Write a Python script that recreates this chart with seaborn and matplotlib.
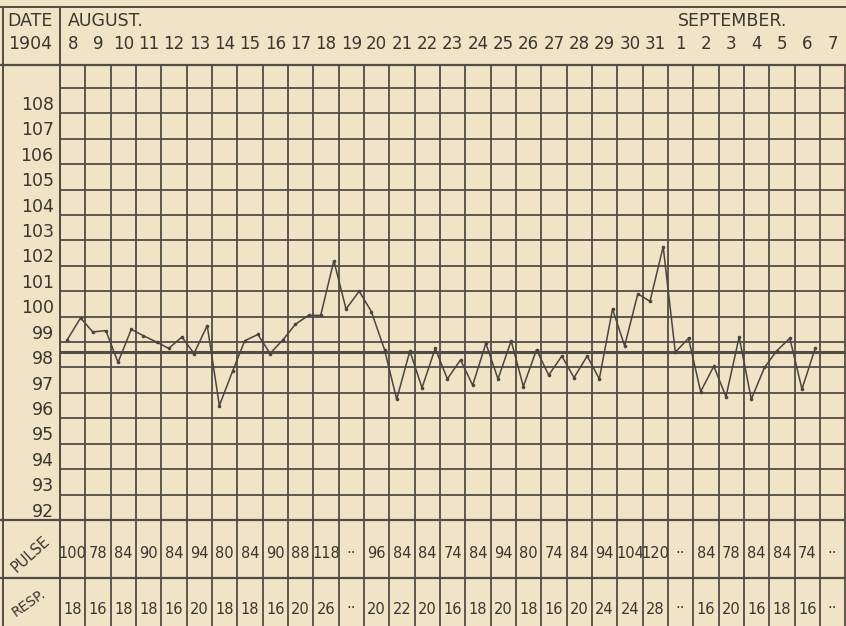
import numpy as np
import pandas as pd
import matplotlib
matplotlib.use("Agg")
import matplotlib.pyplot as plt
import seaborn as sns

# ---- data ----
aug_days = list(range(8, 32))
sep_days = list(range(1, 8))
date_labels = [str(d) for d in aug_days + sep_days]
temp_ticks = list(range(92, 109))
normal_temp = 98.6

# temperature, morning and evening readings per day (Aug 8 -> Sep 7)
temp_am = [99.1, 99.4, 98.2, 99.25, 98.75, 98.55, 96.5, 99.05, 98.55, 99.7,
           100.05, 100.3, 100.2, 96.75, 97.2, 97.55, 97.3, 97.55, 97.25, 97.7,
           97.6, 97.55, 98.85, 100.6, 98.6, 97.05, 96.85, 96.75, 98.65, 97.15, np.nan]
temp_pm = [99.95, 99.45, 99.5, 99.0, 99.2, 99.65, 97.85, 99.3, 99.1, 100.05,
           102.2, 101.0, 98.7, 98.65, 98.75, 98.3, 98.95, 99.05, 98.7, 98.45,
           98.45, 100.3, 100.9, 102.75, 99.15, 98.05, 99.2, 98.0, 99.15, 98.75, np.nan]
am_hour, pm_hour = 7, 19.5

pulse = ["100", "78", "84", "90", "84", "94", "80", "84", "90", "88", "118", "··",
         "96", "84", "84", "74", "84", "94", "80", "74", "84", "94", "104", "120", "··",
         "84", "78", "84", "84", "74", "··"]
resp = ["18", "16", "18", "18", "16", "20", "18", "18", "16", "20", "26", "··",
        "20", "22", "20", "16", "18", "20", "18", "16", "20", "24", "24", "28", "··",
        "16", "20", "16", "18", "16", "··"]

# ---- styling ----
PAPER = "#f0e3c6"
INK = "#3b362f"
GRID = "#524c44"
W, H = 846, 626
COL = 25.33  # px per day column

sns.set_theme(style="white", rc={"figure.facecolor": PAPER, "axes.facecolor": PAPER})
plt.rcParams["font.family"] = ["DejaVu Sans"]

n_days = len(date_labels)
days = np.arange(n_days)
df = pd.DataFrame({
    "t": np.concatenate([days + am_hour / 24, days + pm_hour / 24]),
    "temp": np.concatenate([temp_am, temp_pm]),
}).sort_values("t").dropna()

fig = plt.figure(figsize=(W / 100, H / 100), dpi=100)
x_lo, x_hi = -60 / COL, (W - 60) / COL
left_edge = -57 / COL
lab_x = left_edge / 2 - 0.05


def band(top_px, bottom_px, ylim):
    ax = fig.add_axes([0, 1 - bottom_px / H, 1, (bottom_px - top_px) / H])
    ax.set_xlim(x_lo, x_hi)
    ax.set_ylim(*ylim)
    ax.axis("off")
    ax.vlines([left_edge, 0], ylim[0], ylim[1], color=GRID, lw=1.4, clip_on=False)
    return ax


# header
hdr = dict(ha="center", va="center", fontsize=12.5, color=INK)
ax_h = band(7, 65, (0, 1))
ax_h.axhline(1, color=GRID, lw=1.4, clip_on=False)
ax_h.text(lab_x, 0.76, "DATE", **hdr)
ax_h.text(lab_x, 0.36, "1904", **hdr)
ax_h.text(0.3, 0.76, "AUGUST.", **{**hdr, "ha": "left"})
ax_h.text(len(aug_days) + 0.4, 0.76, "SEPTEMBER.", **{**hdr, "ha": "left"})
for i, lab in enumerate(date_labels):
    ax_h.text(i + 0.5, 0.36, lab, **{**hdr, "fontsize": 12})

# temperature chart
t_top = 109.9
ax_t = band(65, 520, (92, t_top))
ax_t.hlines(range(92, 110), 0, x_hi, color=GRID, lw=1.3)
ax_t.hlines([92, t_top], x_lo, x_hi, color=GRID, lw=1.6, clip_on=False)
ax_t.hlines(normal_temp, 0, x_hi, color=GRID, lw=2.2)
ax_t.vlines(np.arange(0, n_days + 1), 92, t_top, color=GRID, lw=1.3)
for v in temp_ticks:
    ax_t.text(-0.25, v + 0.33, str(v), ha="right", va="center", fontsize=12.5, color=INK)

sns.lineplot(data=df, x="t", y="temp", ax=ax_t, color="#4a453e", lw=1.1,
             marker="o", markersize=2.6, markeredgewidth=0, estimator=None, sort=True)
ax_t.set_xlim(x_lo, x_hi)
ax_t.set_ylim(92, t_top)
ax_t.axis("off")

# pulse and respiration rows
ax_p = band(520, 578, (0, 1))
ax_p.vlines(np.arange(0, n_days + 1), 0, 1, color=GRID, lw=1.3)
ax_p.axhline(0, color=GRID, lw=1.6, clip_on=False)
ax_p.text(lab_x, 0.4, "PULSE", rotation=42, ha="center", va="center",
          fontsize=10.5, color=INK)
for i, v in enumerate(pulse):
    ax_p.text(i + 0.5, 0.42, v, ha="center", va="center", fontsize=10.5, color=INK)

ax_r = band(578, 640, (0, 1))
ax_r.vlines(np.arange(0, n_days + 1), 0, 1, color=GRID, lw=1.3)
ax_r.text(lab_x - 0.05, 0.6, "RESP.", rotation=35, ha="center", va="center",
          fontsize=10, color=INK)
for i, v in enumerate(resp):
    ax_r.text(i + 0.5, 0.5, v, ha="center", va="center", fontsize=10.5, color=INK)

fig.savefig("out.png", dpi=100, facecolor=PAPER)
